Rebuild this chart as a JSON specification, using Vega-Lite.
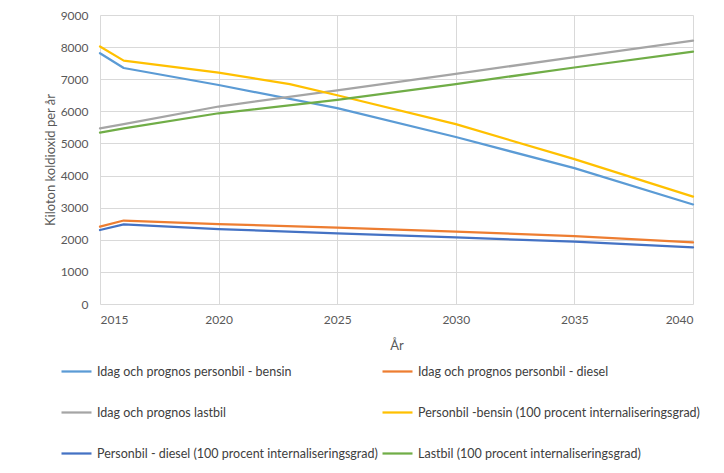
{
  "$schema": "https://vega.github.io/schema/vega-lite/v6.json",
  "width": 593,
  "height": 289,
  "autosize": {"type": "none"},
  "padding": {"left": 100, "top": 15, "right": 31, "bottom": 169},
  "background": "white",
  "config": {
    "font": "Lato",
    "view": {"stroke": null},
    "axis": {"labelFont": "Lato", "titleFont": "Lato", "labelColor": "#595959", "titleColor": "#595959", "labelFontSize": 12, "titleFontSize": 13, "titleFontWeight": "normal", "gridColor": "#d9d9d9", "ticks": false, "domain": false},
    "legend": {"labelFont": "Lato", "labelColor": "#404040", "labelFontSize": 12.5}
  },
  "data": {
    "values": [
      {"year": 2015, "series": "Idag och prognos personbil - bensin", "value": 7810},
      {"year": 2016, "series": "Idag och prognos personbil - bensin", "value": 7350},
      {"year": 2020, "series": "Idag och prognos personbil - bensin", "value": 6820},
      {"year": 2025, "series": "Idag och prognos personbil - bensin", "value": 6100},
      {"year": 2030, "series": "Idag och prognos personbil - bensin", "value": 5200},
      {"year": 2035, "series": "Idag och prognos personbil - bensin", "value": 4230},
      {"year": 2040, "series": "Idag och prognos personbil - bensin", "value": 3100},
      {"year": 2015, "series": "Idag och prognos personbil - diesel", "value": 2410},
      {"year": 2016, "series": "Idag och prognos personbil - diesel", "value": 2600},
      {"year": 2020, "series": "Idag och prognos personbil - diesel", "value": 2490},
      {"year": 2025, "series": "Idag och prognos personbil - diesel", "value": 2380},
      {"year": 2030, "series": "Idag och prognos personbil - diesel", "value": 2255},
      {"year": 2035, "series": "Idag och prognos personbil - diesel", "value": 2110},
      {"year": 2040, "series": "Idag och prognos personbil - diesel", "value": 1920},
      {"year": 2015, "series": "Idag och prognos lastbil", "value": 5470},
      {"year": 2016, "series": "Idag och prognos lastbil", "value": 5600},
      {"year": 2020, "series": "Idag och prognos lastbil", "value": 6150},
      {"year": 2025, "series": "Idag och prognos lastbil", "value": 6650},
      {"year": 2030, "series": "Idag och prognos lastbil", "value": 7165},
      {"year": 2035, "series": "Idag och prognos lastbil", "value": 7690},
      {"year": 2040, "series": "Idag och prognos lastbil", "value": 8200},
      {"year": 2015, "series": "Personbil -bensin (100 procent internaliseringsgrad)", "value": 8020},
      {"year": 2016, "series": "Personbil -bensin (100 procent internaliseringsgrad)", "value": 7580},
      {"year": 2020, "series": "Personbil -bensin (100 procent internaliseringsgrad)", "value": 7205},
      {"year": 2023, "series": "Personbil -bensin (100 procent internaliseringsgrad)", "value": 6850},
      {"year": 2025, "series": "Personbil -bensin (100 procent internaliseringsgrad)", "value": 6500},
      {"year": 2030, "series": "Personbil -bensin (100 procent internaliseringsgrad)", "value": 5600},
      {"year": 2035, "series": "Personbil -bensin (100 procent internaliseringsgrad)", "value": 4510},
      {"year": 2040, "series": "Personbil -bensin (100 procent internaliseringsgrad)", "value": 3345},
      {"year": 2015, "series": "Personbil - diesel (100 procent internaliseringsgrad)", "value": 2305},
      {"year": 2016, "series": "Personbil - diesel (100 procent internaliseringsgrad)", "value": 2480},
      {"year": 2020, "series": "Personbil - diesel (100 procent internaliseringsgrad)", "value": 2335},
      {"year": 2025, "series": "Personbil - diesel (100 procent internaliseringsgrad)", "value": 2200},
      {"year": 2030, "series": "Personbil - diesel (100 procent internaliseringsgrad)", "value": 2075},
      {"year": 2035, "series": "Personbil - diesel (100 procent internaliseringsgrad)", "value": 1940},
      {"year": 2040, "series": "Personbil - diesel (100 procent internaliseringsgrad)", "value": 1765},
      {"year": 2015, "series": "Lastbil (100 procent internaliseringsgrad)", "value": 5340},
      {"year": 2016, "series": "Lastbil (100 procent internaliseringsgrad)", "value": 5470},
      {"year": 2020, "series": "Lastbil (100 procent internaliseringsgrad)", "value": 5940},
      {"year": 2025, "series": "Lastbil (100 procent internaliseringsgrad)", "value": 6355},
      {"year": 2030, "series": "Lastbil (100 procent internaliseringsgrad)", "value": 6850},
      {"year": 2035, "series": "Lastbil (100 procent internaliseringsgrad)", "value": 7365},
      {"year": 2040, "series": "Lastbil (100 procent internaliseringsgrad)", "value": 7860}
    ]
  },
  "mark": {"type": "line", "strokeWidth": 2.25, "strokeCap": "round", "strokeJoin": "round"},
  "encoding": {
    "x": {
      "field": "year", "type": "quantitative",
      "scale": {"domain": [2015, 2040], "nice": false, "zero": false},
      "axis": {"values": [2015, 2020, 2025, 2030, 2035, 2040], "format": "d", "title": "År", "labelPadding": 10, "titlePadding": 14}
    },
    "y": {
      "field": "value", "type": "quantitative",
      "scale": {"domain": [0, 9000], "nice": false},
      "axis": {"values": [0, 1000, 2000, 3000, 4000, 5000, 6000, 7000, 8000, 9000], "format": "d", "title": "Kiloton koldioxid per år", "labelPadding": 12, "titlePadding": 3}
    },
    "color": {
      "field": "series", "type": "nominal",
      "scale": {
        "domain": ["Idag och prognos personbil - bensin", "Idag och prognos lastbil", "Personbil - diesel (100 procent internaliseringsgrad)", "Idag och prognos personbil - diesel", "Personbil -bensin (100 procent internaliseringsgrad)", "Lastbil (100 procent internaliseringsgrad)"],
        "range": ["#5B9BD5", "#A5A5A5", "#4472C4", "#ED7D31", "#FFC000", "#70AD47"]
      },
      "legend": {
        "orient": "none", "legendX": -40, "legendY": 340, "columns": 2, "title": null,
        "symbolType": "stroke", "symbolSize": 900, "symbolStrokeWidth": 2.25,
        "rowPadding": 18, "columnPadding": 0, "labelOffset": 4, "labelLimit": 400
      }
    }
  }
}
